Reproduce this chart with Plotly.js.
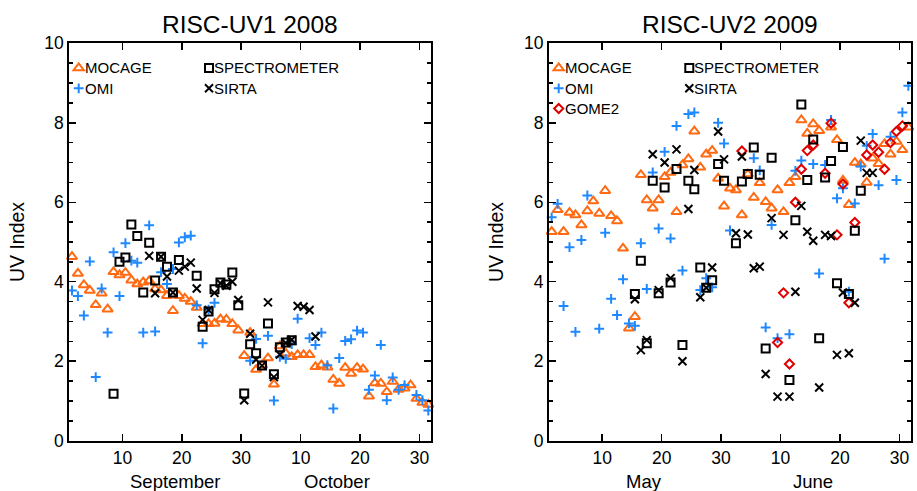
<!DOCTYPE html>
<html>
<head>
<meta charset="utf-8">
<script src="https://cdn.plot.ly/plotly-3.0.1.min.js"></script>
<style>html,body{margin:0;padding:0;background:#fff;}#chart{width:917px;height:491px;}</style>
</head>
<body>
<div id="chart"></div>
<script>
// ---------- RISC-UV1 2008 (day 1 = 1 September) ----------
const uv1MocageDays = [1,2,3,4,5,6,7,8,9,10,11,12,13,14,15,16,17,18,19,20,21,22,23,24,25,26,27,28,29,30,31,32,33,34,35,36,37,38,39,40,41,42,43,44,45,46,47,48,49,50,51,52,53,54,55,56,57,58,59,60,61];
const uv1Mocage = [4.63,4.21,3.92,3.78,3.42,3.71,3.31,4.25,4.17,4.23,4.04,3.94,3.99,4.02,3.82,3.79,3.65,3.27,3.65,3.58,3.50,3.35,2.94,2.94,2.95,3.06,3.05,2.94,2.78,2.14,2.72,1.79,1.90,2.08,1.42,2.38,2.20,2.11,2.16,2.16,2.16,1.86,1.90,1.85,1.54,1.44,1.84,1.69,1.84,1.80,1.12,1.45,1.44,1.23,1.49,1.29,1.32,1.40,1.06,0.96,0.91];
const uv1OmiDays = [1,2,3,4,5,6,7,8,9,10,11,12,13,14,15,16,17,18,19,20,21,22,23,24,25,31,32,34,35,36,37,38,39,41,42,43,44,45,46,47,48,49,50,51,52,53,54,55,56,57,59,60,61];
const uv1Omi = [3.78,3.64,3.15,4.51,1.60,3.83,2.72,4.74,3.64,4.97,4.53,4.48,2.72,5.42,2.75,4.24,3.94,4.32,4.99,5.12,5.16,3.41,2.45,3.30,3.47,2.01,2.56,2.64,1.01,2.11,2.06,2.43,3.07,2.58,2.41,2.72,1.90,0.81,2.08,2.51,2.55,2.77,2.72,1.28,1.64,2.41,1.02,1.59,1.28,1.40,1.15,1.02,0.76];
const uv1SpecDays = [8,9,10,11,12,13,14,15,16,17,18,19,22,23,24,25,26,27,28,29,30,31,32,33,34,35,36,37,38];
const uv1Spec = [1.18,4.50,4.61,5.44,5.15,3.73,4.98,4.03,4.63,4.38,3.73,4.55,4.15,2.87,3.25,3.81,3.98,3.93,4.23,3.41,1.19,2.43,2.20,1.89,2.95,1.67,2.35,2.47,2.53];
const uv1SirtaDays = [14,15,16,17,18,19,20,21,22,23,24,25,26,27,28,29,30,31,32,33,34,35,36,37,38,39,40,41,42];
const uv1Sirta = [4.65,3.71,4.63,4.13,3.73,4.28,4.38,4.48,3.83,3.04,3.29,3.72,3.96,3.90,4.00,3.54,1.02,2.69,2.04,1.89,3.48,1.60,2.17,2.46,2.54,3.39,3.37,3.29,2.62];

// ---------- RISC-UV2 2009 (day 1 = 1 May) ----------
const uv2MocageDays = [1,2,3,4,5,6,7,8,9,10,11,12,13,14,15,16,17,18,19,20,21,22,23,24,25,26,27,28,29,30,31,32,33,34,35,36,37,38,39,40,41,42,43,44,45,46,48,49,50,51,52,53,54,55,56,57,58,59,60,61];
const uv2Mocage = [5.26,5.81,5.26,5.74,5.68,5.43,5.78,6.03,5.72,6.29,5.66,5.53,4.84,2.83,3.12,6.69,6.06,5.85,6.06,6.64,6.75,5.76,6.94,7.09,7.79,6.88,7.21,7.30,6.60,5.90,6.35,6.31,5.68,6.71,6.12,6.49,6.01,5.85,6.31,5.76,6.49,6.64,8.07,7.73,7.97,7.80,7.89,7.57,6.55,5.94,7.00,6.96,6.50,7.11,6.97,7.47,7.21,7.53,7.32,7.89];
const uv2OmiDays = [1,2,3,4,5,6,7,9,10,11,12,13,14,15,16,17,18,19,20,21,22,23,24,25,26,27,28,29,30,31,35,36,37,38,39,41,42,43,45,46,47,48,49,50,51,52,53,54,55,56,57,58,59,60,61];
const uv2Omi = [5.62,5.96,3.39,4.87,2.74,5.05,6.17,2.82,5.23,3.57,3.16,4.06,2.95,2.89,4.97,3.82,6.75,5.34,7.27,5.09,7.92,4.28,8.22,8.26,3.79,4.09,3.86,8.00,7.48,5.29,7.11,6.80,2.85,5.43,2.58,2.68,6.79,7.05,6.96,4.21,6.94,8.07,6.10,6.35,3.75,5.97,6.90,7.42,7.72,6.43,4.58,7.65,6.56,8.26,8.93];
const uv2SpecDays = [15,16,17,18,19,20,21,22,23,24,25,26,27,28,29,30,32,33,34,35,36,37,38,41,42,43,44,45,46,47,48,49,50,51,52,53];
const uv2Spec = [3.69,4.53,2.45,6.54,3.71,6.37,3.98,6.84,2.41,6.54,6.33,4.36,3.85,4.04,6.96,6.54,4.97,6.52,6.71,7.38,6.69,2.32,7.12,1.53,5.55,8.46,6.56,7.58,2.58,6.62,7.04,3.96,7.39,3.69,5.28,6.29];
const uv2SirtaDays = [15,16,17,18,19,20,21,22,23,24,25,26,27,28,29,30,32,33,34,35,36,37,38,39,40,41,42,43,44,45,46,47,48,49,50,51,52,53,54,55];
const uv2Sirta = [3.56,2.28,2.53,7.21,3.79,7.00,4.09,7.33,2.00,5.83,6.81,3.61,3.85,4.36,7.78,7.08,5.22,7.15,5.19,4.34,4.38,1.68,5.60,1.11,5.18,1.11,3.75,5.91,5.26,5.03,1.34,5.18,5.15,2.16,3.73,2.20,3.47,7.55,6.74,6.74];
const uv2GomeDays = [33,39,40,41,42,43,44,45,47,48,49,50,51,52,54,55,56,57,58,59,60];
const uv2Gome = [7.29,2.47,3.72,1.93,6.00,6.83,7.30,7.44,6.73,7.99,5.18,6.46,3.47,5.49,7.19,7.44,7.26,6.83,7.50,7.78,7.92];

// tick labels and texts
const xTickVals = [10,20,30,40,50,60];
const xTickText = ['10','20','30','10','20','30'];
const panelTitles = ['RISC-UV1 2008','RISC-UV2 2009'];
const monthLabels1 = ['September','October'];
const monthLabels2 = ['May','June'];
const seriesNames = ['MOCAGE','OMI','SPECTROMETER','SIRTA','GOME2'];
const yTitle = 'UV Index';

const ORANGE = '#ff6a13', BLUE = '#1e88ff', RED = '#e00000', BLACK = '#000000';
const FONT = 'Liberation Sans, Arial, sans-serif';
const noon = d => d.map(v => v + 0.5);

function tr(days, vals, name, sym, color, size, xa, ya, leg) {
  return {
    type: 'scatter', mode: 'markers', x: noon(days), y: vals, name: name,
    xaxis: xa, yaxis: ya, legend: leg, cliponaxis: false,
    marker: {symbol: sym, size: size, color: color, line: {color: color, width: 2}}
  };
}

const data = [
  tr(uv1MocageDays, uv1Mocage, seriesNames[0], 'triangle-up-open', ORANGE, 9, 'x', 'y', 'legend'),
  tr(uv1OmiDays, uv1Omi, seriesNames[1], 'cross-thin-open', BLUE, 7, 'x', 'y', 'legend2'),
  tr(uv1SpecDays, uv1Spec, seriesNames[2], 'square-open', BLACK, 8, 'x', 'y', 'legend3'),
  tr(uv1SirtaDays, uv1Sirta, seriesNames[3], 'x-thin-open', BLACK, 8, 'x', 'y', 'legend4'),
  tr(uv2MocageDays, uv2Mocage, seriesNames[0], 'triangle-up-open', ORANGE, 9, 'x2', 'y2', 'legend5'),
  tr(uv2OmiDays, uv2Omi, seriesNames[1], 'cross-thin-open', BLUE, 7, 'x2', 'y2', 'legend6'),
  tr(uv2GomeDays, uv2Gome, seriesNames[4], 'diamond-open', RED, 7, 'x2', 'y2', 'legend7'),
  tr(uv2SpecDays, uv2Spec, seriesNames[2], 'square-open', BLACK, 8, 'x2', 'y2', 'legend8'),
  tr(uv2SirtaDays, uv2Sirta, seriesNames[3], 'x-thin-open', BLACK, 8, 'x2', 'y2', 'legend9')
];

const W = 917, H = 491;
function xax(l, r, anchor) {
  return {
    anchor: anchor, domain: [l / W, r / W], range: [1.05, 61.9], showgrid: false, zeroline: false,
    showline: true, linewidth: 2, linecolor: '#000', mirror: 'ticks',
    ticks: 'inside', ticklen: 7, tickwidth: 1.5, tickcolor: '#000',
    tickvals: xTickVals, ticktext: xTickText,
    tickfont: {family: FONT, size: 17.5, color: '#000'}, automargin: false
  };
}
function yax(anchor) {
  return {
    anchor: anchor, domain: [50.3 / H, 447.7 / H], range: [0, 10], showgrid: false, zeroline: false,
    showline: true, linewidth: 2, linecolor: '#000', mirror: 'ticks',
    ticks: 'inside', ticklen: 7, tickwidth: 1.5, tickcolor: '#000', dtick: 2, tick0: 0,
    minor: {dtick: 0.5, ticklen: 4, tickwidth: 1.5, tickcolor: '#000', ticks: 'inside'},
    tickfont: {family: FONT, size: 17.5, color: '#000'}, automargin: false,
    title: {text: yTitle, font: {family: FONT, size: 19.5, color: '#000'}, standoff: 15}
  };
}
// Legend keys: the plotly legend draws the marker; its own (tiny, transparent) text is replaced
// by a label placed right next to the key, as in the original figure.
function leg(markerX, rowY) {
  return {x: (markerX - 19) / W, y: 1 - rowY / H, xanchor: 'left', yanchor: 'middle',
          bgcolor: 'rgba(0,0,0,0)', borderwidth: 0, itemwidth: 30,
          font: {family: FONT, size: 1, color: 'rgba(0,0,0,0)'}};
}

const ann = [];
function mk(text, xref, x, yPx, size, anchor) {
  ann.push({text: text, xref: xref, yref: 'paper', x: x, y: 1 - yPx / H, showarrow: false,
            xanchor: anchor || 'center', yanchor: 'middle', font: {family: FONT, size: size, color: '#000'}});
}
mk(panelTitles[0], 'paper', 250 / W, 24, 24.5);
mk(panelTitles[1], 'paper', 730 / W, 24, 24.5);
mk(monthLabels1[0], 'x', 19.0, 481, 18.5);
mk(monthLabels1[1], 'x', 46.2, 481, 18.5);
mk(monthLabels2[0], 'x2', 17.0, 481, 18.5);
mk(monthLabels2[1], 'x2', 45.4, 481, 18.5);
// legend labels
const legendRows = [
  [seriesNames[0], 77.7, 84.3, 68], [seriesNames[1], 77.7, 84.3, 88.3],
  [seriesNames[2], 208, 213.3, 68], [seriesNames[3], 208, 213.3, 88.3],
  [seriesNames[0], 557.7, 564, 68], [seriesNames[1], 557.7, 564, 88.3], [seriesNames[4], 557.7, 564, 108.5],
  [seriesNames[2], 688.3, 693.3, 68], [seriesNames[3], 688.3, 693.3, 88.3]
];
legendRows.forEach(r => mk(r[0], 'paper', (r[2] - 1) / W, r[3], 15, 'left'));

const layout = {
  width: W, height: H, margin: {l: 0, r: 0, t: 0, b: 0},
  paper_bgcolor: '#fff', plot_bgcolor: '#fff', showlegend: true,
  xaxis: xax(69.3, 430.7, 'y'), yaxis: yax('x'),
  xaxis2: xax(549, 910.7, 'y2'), yaxis2: yax('x2'),
  annotations: ann, font: {family: FONT, color: '#000'}
};
legendRows.forEach((r, i) => { layout[i === 0 ? 'legend' : 'legend' + (i + 1)] = leg(r[1], r[3]); });

Plotly.newPlot('chart', data, layout, {staticPlot: true, displayModeBar: false});
</script>
</body>
</html>
